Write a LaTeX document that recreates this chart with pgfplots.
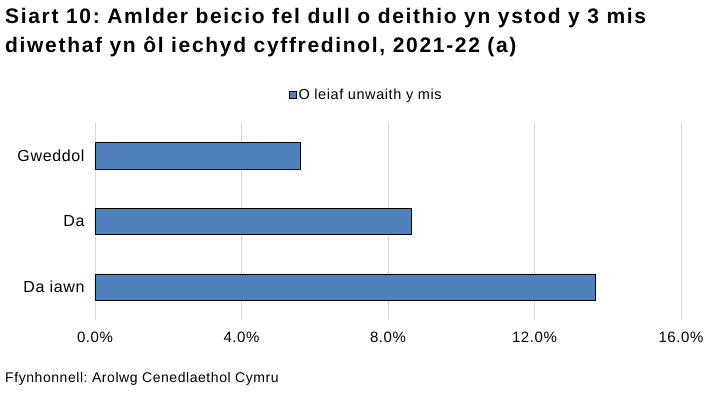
\documentclass[border=0pt]{standalone}
\usepackage{pgfplots}
\pgfplotsset{compat=1.18}
\usepackage{fontspec}
\setmainfont[LetterSpace=4]{Liberation Sans}
\newfontfamily\titlefont[LetterSpace=8]{Liberation Sans}
\definecolor{barblue}{HTML}{4F81BD}
\definecolor{gridgray}{HTML}{D9D9D9}
\frenchspacing
\begin{document}
\begin{tikzpicture}
\path[draw=none] (0pt,0pt) rectangle (710pt,-398pt);
\node[anchor=north west, align=left, inner sep=0pt, font=\titlefont\fontsize{21}{29}\selectfont\bfseries] at (5pt,-8pt) {Siart 10: Amlder beicio fel dull o deithio yn ystod y 3 mis\\diwethaf yn ôl iechyd cyffredinol, 2021-22 (a)};
\node[anchor=west, inner sep=0pt, font=\fontsize{14}{16}\selectfont] at (5pt,-379pt) {Ffynhonnell: Arolwg Cenedlaethol Cymru};
\begin{axis}[
  at={(95pt,-320pt)}, anchor=south west,
  width=586pt, height=197pt, scale only axis,
  xmin=0, xmax=16, ymin=0.5, ymax=3.5,
  axis line style={draw=none},
  xtick={0,4,8,12,16},
  xticklabels={0.0\%,4.0\%,8.0\%,12.0\%,16.0\%},
  ytick={1,2,3},
  yticklabels={Da iawn,Da,Gweddol},
  major tick length=0pt,
  xmajorgrids, grid style={gridgray, line width=0.8pt},
  xticklabel style={font=\fontsize{15}{17}\selectfont, yshift=-8pt},
  yticklabel style={font=\fontsize{16}{18}\selectfont, xshift=-7pt},
  xbar, bar width=26.5pt,
  legend style={at={(0.463,1.142)}, anchor=center, draw=none, fill=none, font=\fontsize{14.5}{16}\selectfont, inner sep=0pt},
  legend image code/.code={\draw[fill=barblue, draw=black, line width=0.5pt] (0pt,-3.5pt) rectangle (7pt,3.5pt);},
]
\addplot[fill=barblue, draw=black, line width=0.8pt] coordinates {(13.67,1) (8.65,2) (5.60,3)};
\legend{O leiaf unwaith y mis}
\end{axis}
\end{tikzpicture}
\end{document}
